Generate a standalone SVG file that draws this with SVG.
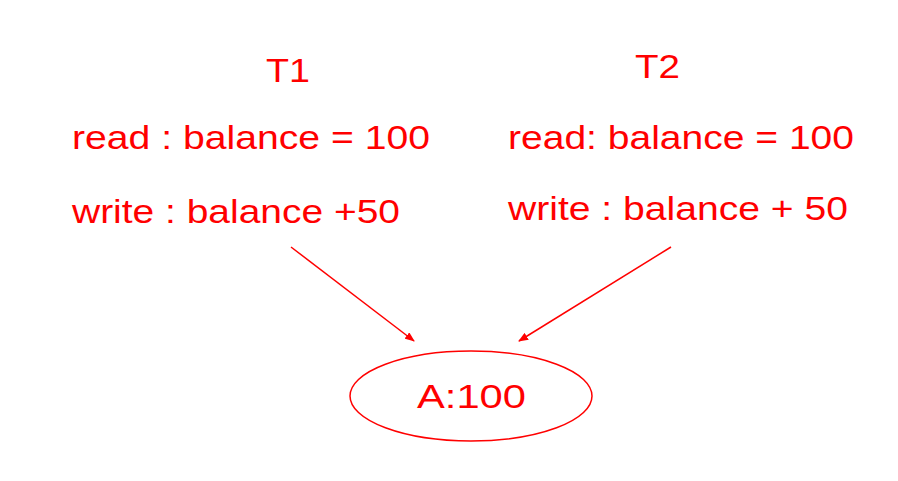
<svg xmlns="http://www.w3.org/2000/svg" width="898" height="481" viewBox="0 0 898 481">
<style>
text{font-family:"Liberation Sans",Arial,sans-serif;font-size:34px;fill:#ff0000}
.c{stroke:#ff0000;stroke-width:1.5;fill:none}
</style>
<defs><marker id="ah" markerWidth="10" markerHeight="8" refX="9" refY="4" orient="auto" markerUnits="userSpaceOnUse"><path d="M0,0L10,4L0,8z" fill="#ff0000"/></marker></defs>
<rect width="898" height="481" fill="#fff"/>
<g id="t1">
<text x="266" y="82" textLength="44" lengthAdjust="spacingAndGlyphs">T1</text>
<text x="72" y="149" textLength="358" lengthAdjust="spacingAndGlyphs">read : balance = 100</text>
<text x="72" y="223" textLength="328" lengthAdjust="spacingAndGlyphs">write : balance +50</text>
</g>
<g id="t2">
<text x="635" y="78" textLength="45" lengthAdjust="spacingAndGlyphs">T2</text>
<text x="508" y="149" textLength="346" lengthAdjust="spacingAndGlyphs">read: balance = 100</text>
<text x="508" y="220" textLength="340" lengthAdjust="spacingAndGlyphs">write : balance + 50</text>
</g>
<g id="a">
<ellipse cx="471" cy="396" rx="121" ry="45" class="c"/>
<text x="417" y="408" textLength="109" lengthAdjust="spacingAndGlyphs">A:100</text>
</g>
<g id="connectors">
<line x1="291" y1="247" x2="414" y2="341" class="c" marker-end="url(#ah)"/>
<line x1="671" y1="247" x2="519" y2="341" class="c" marker-end="url(#ah)"/>
</g>
</svg>
